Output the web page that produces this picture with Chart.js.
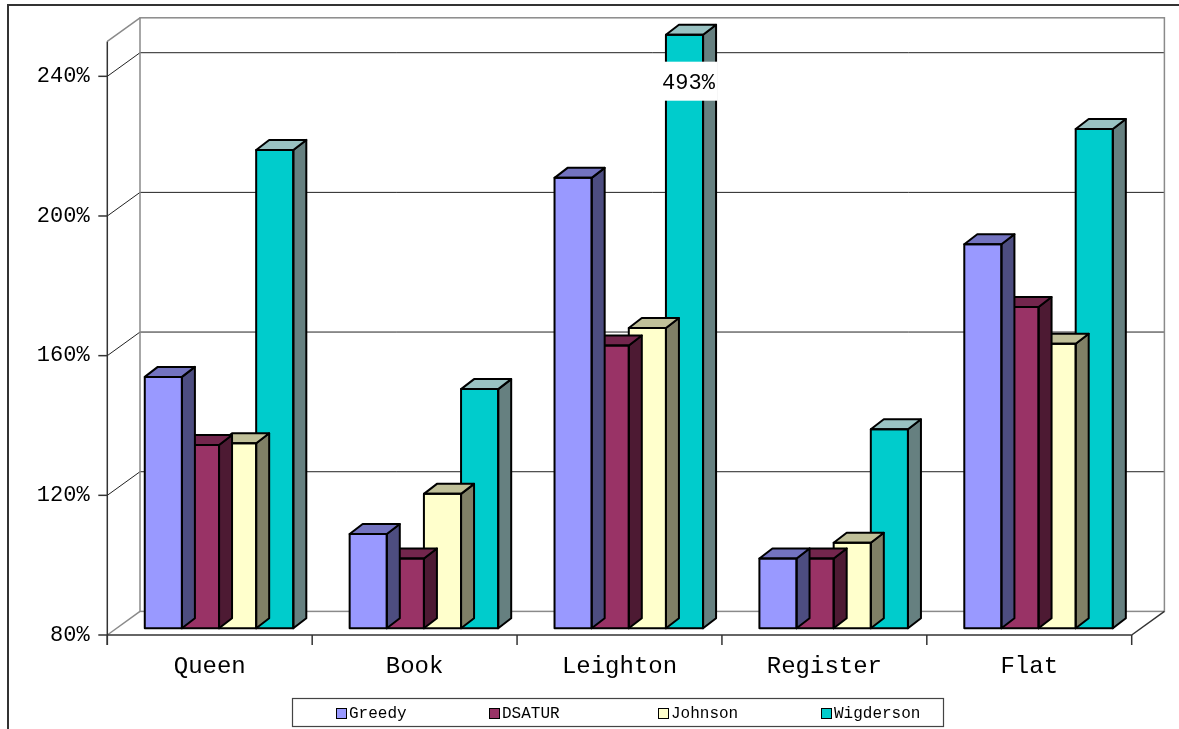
<!DOCTYPE html>
<html>
<head>
<meta charset="utf-8">
<script src="https://cdn.jsdelivr.net/npm/chart.js@4.4.1/dist/chart.umd.min.js"></script>
<style>
  html, body { margin: 0; padding: 0; background: #fff; }
  canvas { display: block; }
</style>
</head>
<body>
<canvas id="c" width="1179" height="729"></canvas>
<script>
// ── data ──────────────────────────────────────────────────────────────────────
var categories = ["Queen", "Book", "Leighton", "Register", "Flat"];
var greedy     = [152, 107, 209, 100, 190];
var dsatur     = [132.5, 100, 161, 100, 172];
var johnson    = [133, 118.5, 166, 104.5, 161.5];
var wigderson  = [217, 148.5, 493, 137, 223];
var yTicks     = [80, 120, 160, 200, 240];

var Y_MIN = 80, Y_MAX = 250;
var FONT = "'Liberation Mono', 'DejaVu Sans Mono', monospace";

// ── fake-3D geometry (pixel offsets between planes) ───────────────────────────
var FRONT = { dx: -9.3, dy: 6.7 };    // front axis plane relative to bar fronts
var WALL  = { dx: 32.7, dy: -23.6 };  // back wall relative to front axis plane
var DEPTH = { dx: 13, dy: -10 };      // depth of a bar

function poly(ctx, pts, fill) {
  ctx.beginPath();
  ctx.moveTo(pts[0][0], pts[0][1]);
  for (var i = 1; i < pts.length; i++) ctx.lineTo(pts[i][0], pts[i][1]);
  ctx.closePath();
  if (fill) { ctx.fillStyle = fill; ctx.fill(); }
  ctx.stroke();
}
function line(ctx, x0, y0, x1, y1) {
  ctx.beginPath(); ctx.moveTo(x0, y0); ctx.lineTo(x1, y1); ctx.stroke();
}

var threeD = {
  id: "threeD",
  beforeDraw: function (chart) {
    var ctx = chart.ctx;
    ctx.save();
    ctx.fillStyle = "#fff";
    ctx.fillRect(0, 0, chart.width, chart.height);
    ctx.restore();
  },
  beforeDatasetsDraw: function (chart) {
    var ctx = chart.ctx, a = chart.chartArea, ys = chart.scales.y;
    var fy = function (v) { return ys.getPixelForValue(v) + FRONT.dy; };
    var by = function (v) { return fy(v) + WALL.dy; };
    var fx0 = a.left + FRONT.dx, fx1 = a.right + FRONT.dx;
    var bx0 = fx0 + WALL.dx, bx1 = fx1 + WALL.dx;
    var fb = fy(Y_MIN), ft = fy(Y_MAX);

    ctx.save();
    // gridlines on side + back wall
    ctx.strokeStyle = "#222"; ctx.lineWidth = 1;
    yTicks.forEach(function (v) {
      if (v === Y_MIN) return;
      ctx.beginPath();
      ctx.moveTo(fx0, fy(v)); ctx.lineTo(bx0, by(v)); ctx.lineTo(bx1, by(v));
      ctx.stroke();
    });
    // grey wall outlines
    ctx.strokeStyle = "#8a8a8a"; ctx.lineWidth = 1.5;
    ctx.strokeRect(bx0, by(Y_MAX), bx1 - bx0, by(Y_MIN) - by(Y_MAX));
    line(ctx, fx0, ft, bx0, by(Y_MAX));
    line(ctx, fx0, fb, bx0, by(Y_MIN));
    // front edges
    ctx.strokeStyle = "#333"; ctx.lineWidth = 1.5;
    line(ctx, fx0, ft, fx0, fb + 10);
    line(ctx, fx0, fb, fx1, fb);
    line(ctx, fx1, fb, bx1, by(Y_MIN));
    // tick marks
    yTicks.forEach(function (v) { line(ctx, fx0 - 9, fy(v), fx0, fy(v)); });
    var catW = (a.right - a.left) / categories.length;
    for (var i = 0; i <= categories.length; i++) {
      var tx = a.left + i * catW + FRONT.dx;
      line(ctx, tx, fb, tx, fb + 10);
    }
    ctx.restore();
  },
  afterDatasetDraw: function (chart, args) {
    var ctx = chart.ctx, a = chart.chartArea;
    var ds = chart.data.datasets[args.index];
    ctx.save();
    ctx.strokeStyle = "#000"; ctx.lineWidth = 2; ctx.lineJoin = "round";
    args.meta.data.forEach(function (el) {
      var p = el.getProps(["x", "y", "base", "width"], true);
      var l = p.x - p.width / 2, r = p.x + p.width / 2;
      var t = Math.max(p.y, a.top), b = Math.min(p.base, a.bottom);
      poly(ctx, [[r, t], [r + DEPTH.dx, t + DEPTH.dy], [r + DEPTH.dx, b + DEPTH.dy], [r, b]], ds.sideColor);
      poly(ctx, [[l, t], [l + DEPTH.dx, t + DEPTH.dy], [r + DEPTH.dx, t + DEPTH.dy], [r, t]], ds.topColor);
      ctx.strokeRect(l, t, r - l, b - t);
    });
    ctx.restore();
  },
  afterDatasetsDraw: function (chart) {
    var ctx = chart.ctx, a = chart.chartArea;
    ctx.save();
    // value label for bars running off the top of the axis
    chart.data.datasets.forEach(function (ds, di) {
      chart.getDatasetMeta(di).data.forEach(function (el, i) {
        var v = ds.data[i];
        if (v <= Y_MAX) return;
        var cx = el.x + 4, cy = a.top + 48;
        ctx.fillStyle = "#fff";
        ctx.fillRect(cx - 29, cy - 21, 58, 39);
        ctx.fillStyle = "#000";
        ctx.font = "22px " + FONT;
        ctx.textAlign = "center"; ctx.textBaseline = "middle";
        ctx.fillText(v + "%", cx, cy);
      });
    });

    // legend box
    var L = 292, T = 698, W = 651, H = 28;
    var offs = [44, 197, 366, 529];
    ctx.fillStyle = "#fff"; ctx.fillRect(L, T, W, H);
    ctx.strokeStyle = "#444"; ctx.lineWidth = 1.2;
    ctx.strokeRect(L + 0.5, T + 0.5, W, H);
    ctx.font = "16px " + FONT;
    ctx.textAlign = "left"; ctx.textBaseline = "middle";
    chart.data.datasets.forEach(function (ds, i) {
      var sx = L + offs[i], sy = T + 10;
      ctx.fillStyle = ds.backgroundColor;
      ctx.fillRect(sx, sy, 10, 10);
      ctx.strokeStyle = "#000"; ctx.lineWidth = 1;
      ctx.strokeRect(sx + 0.5, sy + 0.5, 10, 10);
      ctx.fillStyle = "#000";
      ctx.fillText(ds.label, sx + 13, sy + 6);
    });

    // outer frame
    ctx.strokeStyle = "#333"; ctx.lineWidth = 2;
    ctx.beginPath();
    ctx.moveTo(8, chart.height); ctx.lineTo(8, 5); ctx.lineTo(chart.width, 5);
    ctx.stroke();
    ctx.restore();
  }
};

new Chart(document.getElementById("c"), {
  type: "bar",
  data: {
    labels: categories,
    datasets: [
      { label: "Greedy",    data: greedy,    backgroundColor: "#9999FF", topColor: "#7373C0", sideColor: "#4D4D80" },
      { label: "DSATUR",    data: dsatur,    backgroundColor: "#993366", topColor: "#73264D", sideColor: "#4D1A33" },
      { label: "Johnson",   data: johnson,   backgroundColor: "#FFFFCC", topColor: "#C0C099", sideColor: "#808066" },
      { label: "Wigderson", data: wigderson, backgroundColor: "#00CCCC", topColor: "#99C2C2", sideColor: "#668080" }
    ]
  },
  options: {
    responsive: false,
    animation: false,
    devicePixelRatio: 1,
    layout: { padding: { top: 34.7, right: 38, left: 0, bottom: 0 } },
    datasets: { bar: { categoryPercentage: 0.725, barPercentage: 1, borderWidth: 0 } },
    plugins: { legend: { display: false }, tooltip: { enabled: false } },
    scales: {
      x: {
        grid: { display: false, drawTicks: false },
        border: { display: false },
        ticks: { color: "#000", font: { family: FONT, size: 24 }, padding: 24, labelOffset: -9.3, maxRotation: 0 },
        afterFit: function (s) { s.height = 100.7; s.paddingLeft = 0; s.paddingRight = 0; }
      },
      y: {
        min: Y_MIN, max: Y_MAX,
        afterBuildTicks: function (s) { s.ticks = yTicks.map(function (v) { return { value: v }; }); },
        grid: { display: false, drawTicks: false },
        border: { display: false },
        ticks: { color: "#000", font: { family: FONT, size: 22 }, padding: 27, labelOffset: 6.7,
                 callback: function (v) { return v + "%"; } },
        afterFit: function (s) { s.width = 116.6; s.paddingTop = 0; s.paddingBottom = 0; }
      }
    }
  },
  plugins: [threeD]
});
</script>
</body>
</html>
